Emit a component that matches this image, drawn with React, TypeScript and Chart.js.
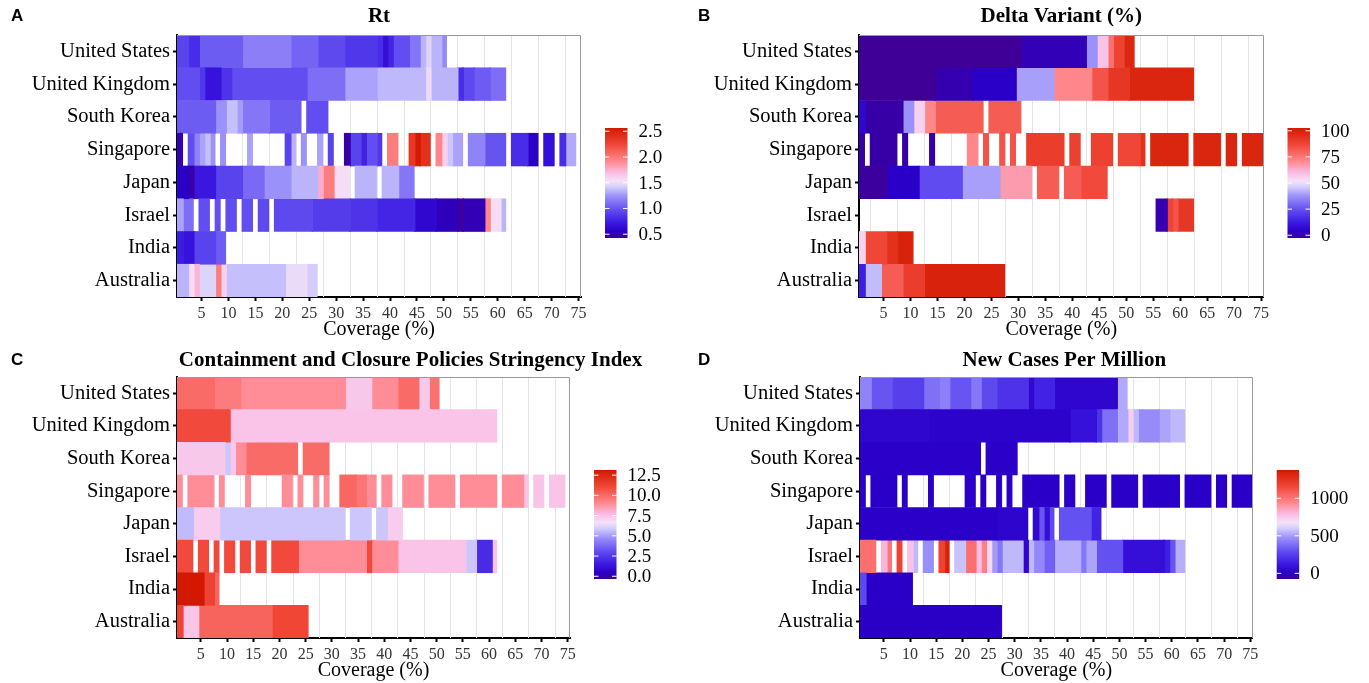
import React, { useEffect, useRef } from "react";
import { Chart, registerables } from "chart.js";
Chart.register(...registerables);

const SERIF = '"Liberation Serif", "Times New Roman", serif';
const SANS = '"Liberation Sans", Arial, sans-serif';

const countries = ["United States", "United Kingdom", "South Korea", "Singapore", "Japan", "Israel", "India", "Australia"];
const xTickValues = [5, 10, 15, 20, 25, 30, 35, 40, 45, 50, 55, 60, 65, 70, 75];
const xGridValues = [2.5, 7.5, 12.5, 17.5, 22.5, 27.5, 32.5, 37.5, 42.5, 47.5, 52.5, 57.5, 62.5, 67.5, 72.5];

// Each run: [first coverage step, last coverage step, value]
// ---- Rt ----
const rtUS = [[1,2,0.95],[3,4,0.85],[5,12,1.05],[13,21,1.18],[22,26,1.08],[27,31,0.98],[32,37,0.9],[38,38,0.85],[39,39,0.7],[40,40,0.82],[41,43,1.0],[44,45,1.15],[46,46,1.35],[47,47,1.45],[48,49,1.35],[50,50,1.22]];
const rtUK = [[1,4,1.0],[5,5,0.9],[6,8,0.72],[9,10,0.88],[11,24,1.0],[25,31,1.12],[32,37,1.3],[38,46,1.36],[47,47,1.5],[48,52,1.35],[53,53,0.85],[54,55,0.98],[56,58,1.05],[59,61,1.12]];
const rtKR = [[1,7,1.05],[8,9,1.25],[10,11,1.38],[12,12,1.28],[13,17,1.15],[18,23,1.05],[25,28,1.0]];
const rtSG = [[1,1,0.55],[3,3,1.0],[4,4,1.2],[5,5,1.3],[6,6,1.38],[7,7,1.25],[9,9,1.25],[14,14,1.3],[21,21,0.95],[22,22,1.35],[24,24,1.25],[27,27,1.3],[29,29,0.95],[32,32,0.52],[33,34,0.95],[35,35,0.8],[36,37,1.0],[38,38,0.9],[40,41,1.95],[44,44,2.3],[45,45,2.5],[46,47,2.35],[49,49,1.9],[50,50,1.6],[51,51,1.4],[52,53,1.3],[55,57,1.2],[58,61,1.02],[63,65,0.85],[66,67,0.6],[69,70,0.7],[72,72,0.85],[73,74,1.32]];
const rtJP = [[1,2,0.6],[3,3,0.52],[4,7,0.75],[8,12,0.95],[13,16,1.1],[17,21,1.25],[22,26,1.35],[27,27,1.75],[28,29,1.95],[30,32,1.55],[34,37,1.35],[39,41,1.35],[42,44,1.15]];
const rtIL = [[1,1,1.3],[2,3,1.12],[5,6,1.0],[8,8,1.0],[10,11,1.0],[13,14,1.0],[16,17,0.98],[19,25,0.98],[26,32,0.92],[33,37,0.88],[38,44,0.82],[45,48,0.65],[49,52,0.57],[53,53,0.5],[54,57,0.56],[58,58,1.9],[59,60,1.55],[61,61,1.35]];
const rtIN = [[1,1,0.78],[2,3,0.72],[4,7,0.95],[8,9,1.05]];
const rtAU = [[1,2,1.35],[3,3,1.55],[4,4,1.72],[5,7,1.45],[8,8,1.95],[9,9,1.6],[10,20,1.38],[21,24,1.5],[25,26,1.42]];

// ---- Delta variant (%) ----
const dvUS = [[1,30,0],[31,42,4],[43,44,38],[45,46,58],[47,47,75],[48,49,86],[50,51,95]];
const dvUK = [[1,14,0],[15,21,3],[22,29,6],[30,36,40],[37,43,70],[44,46,82],[47,50,90],[51,62,96]];
const dvKR = [[1,1,8],[2,8,2],[9,10,38],[11,12,55],[13,14,70],[15,23,80],[25,30,80]];
const dvSG = [[1,1,2],[3,7,2],[9,9,2],[14,14,2],[21,22,70],[24,24,82],[27,27,82],[29,29,82],[32,38,88],[40,41,87],[44,47,87],[49,52,85],[53,53,92],[55,61,96],[63,67,96],[69,70,96],[72,75,96]];
const dvJP = [[1,5,1],[6,11,6],[12,19,25],[20,26,40],[27,32,66],[34,37,80],[39,41,80],[42,46,84]];
const dvIL = [[56,57,3],[58,58,86],[59,59,82],[60,62,90]];
const dvIN = [[1,1,55],[2,5,85],[6,7,92],[8,10,97]];
const dvAU = [[1,1,15],[2,4,44],[5,8,80],[9,12,88],[13,27,97]];

// ---- Stringency index ----
const siUS = [[1,7,9.8],[8,12,9.3],[13,32,8.8],[33,37,7.3],[38,42,8.8],[43,46,9.8],[47,48,7.3],[49,50,9.6]];
const siUK = [[1,10,10.8],[11,61,7.4]];
const siKR = [[1,9,7.3],[10,10,5.8],[11,11,7.3],[12,13,8.8],[14,23,9.8],[25,29,9.8]];
const siSG = [[1,1,8.8],[3,7,8.8],[9,9,8.8],[14,14,8.8],[21,22,8.8],[24,24,8.8],[27,27,8.8],[29,29,8.8],[32,34,9.9],[35,36,9.5],[37,38,8.8],[40,41,8.8],[44,47,8.8],[49,53,8.8],[55,61,8.8],[63,66,8.8],[67,67,7.4],[69,70,7.4],[72,74,7.4]];
const siJP = [[1,3,5.6],[4,8,7.2],[9,32,5.8],[34,37,5.8],[39,40,5.8],[41,43,7.2]];
const siIL = [[1,3,10.8],[5,6,10.8],[8,8,10.8],[10,11,10.8],[13,14,10.8],[16,17,10.8],[19,23,10.8],[24,36,8.8],[37,37,10.8],[38,42,8.8],[43,55,7.4],[56,57,5.8],[58,60,2.3],[61,61,7.4]];
const siIN = [[1,5,12.8],[6,7,11],[8,8,10]];
const siAU = [[1,1,11],[2,4,7.4],[5,18,10],[19,25,10.9]];

// ---- New cases per million ----
const ncUS = [[1,2,450],[3,6,330],[7,12,270],[13,15,400],[16,17,440],[18,21,330],[22,23,420],[24,26,300],[27,32,230],[33,33,80],[34,37,180],[38,49,70],[50,51,530]];
const ncUK = [[1,13,70],[14,40,55],[41,45,120],[46,46,230],[47,49,400],[50,51,530],[52,52,730],[53,53,560],[54,57,470],[58,59,520],[60,62,560]];
const ncKR = [[1,23,50],[25,30,50]];
const ncSG = [[1,1,45],[3,7,45],[9,9,45],[14,14,45],[21,22,45],[24,24,45],[27,27,45],[29,29,45],[32,38,45],[40,41,45],[44,47,45],[49,53,45],[55,61,45],[63,67,45],[69,70,45],[72,75,45]];
const ncJP = [[1,26,50],[27,32,65],[34,34,80],[35,35,330],[36,36,110],[37,37,300],[39,44,320],[45,46,180]];
const ncIL = [[1,3,1000],[5,5,800],[6,6,980],[8,8,1150],[10,10,760],[11,11,560],[13,14,480],[16,16,1150],[17,17,1300],[19,20,580],[21,22,1000],[23,23,780],[24,24,950],[25,25,700],[26,26,500],[27,27,420],[28,31,560],[32,32,70],[33,33,560],[34,35,460],[36,37,360],[38,42,540],[43,43,420],[44,45,520],[46,50,320],[51,58,110],[59,59,170],[60,60,330],[61,62,540]];
const ncIN = [[1,1,300],[2,10,45]];
const ncAU = [[1,27,40]];

// legend (colour bar) ranges and ticks
const rtRange = [0.48, 2.51];
const dvRange = [0, 100];
const siRange = [0, 12.8];
const ncRange = [-39, 1340];
const rtLegendTicks = [0.5, 1.0, 1.5, 2.0, 2.5];
const rtLegendLabels = ["0.5", "1.0", "1.5", "2.0", "2.5"];
const dvLegendTicks = [0, 25, 50, 75, 100];
const dvLegendLabels = ["0", "25", "50", "75", "100"];
const siLegendTicks = [0, 2.5, 5, 7.5, 10, 12.5];
const siLegendLabels = ["0.0", "2.5", "5.0", "7.5", "10.0", "12.5"];
const ncLegendTicks = [0, 500, 1000];
const ncLegendLabels = ["0", "500", "1000"];

// colour palette (blue - white - red)
const PALETTE: [number, number[]][] = [
  [0.0, [62, 0, 150]],
  [0.06, [42, 0, 200]],
  [0.14, [60, 25, 225]],
  [0.25, [95, 75, 240]],
  [0.38, [155, 145, 250]],
  [0.47, [215, 210, 252]],
  [0.52, [245, 225, 248]],
  [0.6, [250, 185, 225]],
  [0.7, [255, 135, 140]],
  [0.85, [240, 70, 55]],
  [1.0, [210, 25, 0]],
];
function paletteColor(t: number): string {
  const tt = Math.max(0, Math.min(1, t));
  for (let i = 1; i < PALETTE.length; i++) {
    const [t1, c1] = PALETTE[i];
    const [t0, c0] = PALETTE[i - 1];
    if (tt <= t1) {
      const f = (tt - t0) / (t1 - t0);
      const c = c0.map((v, k) => Math.round(v + (c1[k] - v) * f));
      return `rgb(${c[0]},${c[1]},${c[2]})`;
    }
  }
  const c = PALETTE[PALETTE.length - 1][1];
  return `rgb(${c[0]},${c[1]},${c[2]})`;
}

type Panel = {
  key: string; letter: string; title: string; rows: number[][][]; range: number[];
  cbTicks: number[]; cbLabels: string[];
  left: number; top: number; w: number; h: number;
  yWidth: number; padRight: number; xHeight: number;
  titleShift: number; titleBaseline: number; letterX: number; letterBaseline: number;
  cbTop: number; cbBottom: number;
};

const panels: Panel[] = [
  { key: "A", letter: "A", title: "Rt", rows: [rtUS, rtUK, rtKR, rtSG, rtJP, rtIL, rtIN, rtAU], range: rtRange,
    cbTicks: rtLegendTicks, cbLabels: rtLegendLabels, left: 0, top: 0, w: 684, h: 342,
    yWidth: 177, padRight: 103, xHeight: 45, titleShift: 0, titleBaseline: 22, letterX: 11, letterBaseline: 21, cbTop: 128, cbBottom: 238 },
  { key: "B", letter: "B", title: "Delta Variant (%)", rows: [dvUS, dvUK, dvKR, dvSG, dvJP, dvIL, dvIN, dvAU], range: dvRange,
    cbTicks: dvLegendTicks, cbLabels: dvLegendLabels, left: 684, top: 0, w: 685, h: 342,
    yWidth: 175, padRight: 105.5, xHeight: 45, titleShift: 0, titleBaseline: 22, letterX: 14, letterBaseline: 21, cbTop: 128, cbBottom: 238 },
  { key: "C", letter: "C", title: "Containment and Closure Policies Stringency Index", rows: [siUS, siUK, siKR, siSG, siJP, siIL, siIN, siAU], range: siRange,
    cbTicks: siLegendTicks, cbLabels: siLegendLabels, left: 0, top: 342, w: 684, h: 341,
    yWidth: 177, padRight: 114, xHeight: 45, titleShift: 37, titleBaseline: 24, letterX: 11, letterBaseline: 23, cbTop: 128, cbBottom: 237 },
  { key: "D", letter: "D", title: "New Cases Per Million", rows: [ncUS, ncUK, ncKR, ncSG, ncJP, ncIL, ncIN, ncAU], range: ncRange,
    cbTicks: ncLegendTicks, cbLabels: ncLegendLabels, left: 684, top: 342, w: 685, h: 341,
    yWidth: 176, padRight: 116.3, xHeight: 45, titleShift: 8, titleBaseline: 24, letterX: 14, letterBaseline: 23, cbTop: 128, cbBottom: 237 },
];

function buildDatasets(rows: number[][][], range: number[]) {
  const maxSeg = Math.max(...rows.map((r) => r.length));
  const ds: any[] = [];
  for (let k = 0; k < maxSeg; k++) {
    ds.push({
      data: rows.map((r) => {
        const s = r[k];
        if (!s) return null;
        const next = r[k + 1];
        const overlap = next && next[0] === s[1] + 1 ? 0.15 : 0;
        return [s[0] - 0.5, s[1] + 0.5 + overlap];
      }),
      backgroundColor: rows.map((r) => (r[k] ? paletteColor((r[k][2] - range[0]) / (range[1] - range[0])) : "rgba(0,0,0,0)")),
      borderWidth: 0,
      grouped: false,
      barPercentage: 1,
      categoryPercentage: 1,
    });
  }
  return ds;
}

const decoPlugin = {
  id: "panelDeco",
  beforeDatasetsDraw(chart: any) {
    const { ctx, chartArea: a, scales } = chart;
    const x = scales.x;
    ctx.save();
    ctx.strokeStyle = "#e4e4e4";
    ctx.lineWidth = 1;
    for (const g of xGridValues) {
      const px = Math.round(x.getPixelForValue(g)) + 0.5;
      ctx.beginPath();
      ctx.moveTo(px, a.top);
      ctx.lineTo(px, a.bottom);
      ctx.stroke();
    }
    ctx.restore();
  },
  afterDatasetsDraw(chart: any) {
    const { ctx, chartArea: a } = chart;
    ctx.save();
    ctx.strokeStyle = "#9a9a9a";
    ctx.lineWidth = 1;
    ctx.beginPath();
    ctx.moveTo(a.left, Math.round(a.top) + 0.5);
    ctx.lineTo(Math.round(a.right) - 0.5, Math.round(a.top) + 0.5);
    ctx.lineTo(Math.round(a.right) - 0.5, a.bottom);
    ctx.stroke();
    ctx.restore();
  },
  afterDraw(chart: any) {
    const o: Panel = chart.options.plugins.panelDeco;
    const { ctx, chartArea: a } = chart;
    ctx.save();
    ctx.fillStyle = "#000";
    ctx.font = `bold 21px ${SERIF}`;
    ctx.textAlign = "center";
    ctx.textBaseline = "alphabetic";
    ctx.fillText(o.title, (a.left + a.right) / 2 + o.titleShift, o.titleBaseline);
    ctx.font = `bold 17px ${SANS}`;
    ctx.textAlign = "left";
    ctx.fillText(o.letter, o.letterX, o.letterBaseline);

    const L = a.right + 24;
    const W = 22.5;
    const T = o.cbTop;
    const B = o.cbBottom;
    const grad = ctx.createLinearGradient(0, B, 0, T);
    for (let i = 0; i <= 50; i++) grad.addColorStop(i / 50, paletteColor(i / 50));
    ctx.fillStyle = grad;
    ctx.fillRect(L, T, W, B - T);
    const [mn, mx] = o.range;
    const inset = 2.75;
    ctx.font = `19px ${SERIF}`;
    ctx.textBaseline = "middle";
    ctx.textAlign = "left";
    o.cbTicks.forEach((v, i) => {
      const y = B - inset - ((v - mn) / (mx - mn)) * (B - T - 2 * inset);
      ctx.strokeStyle = "#fff";
      ctx.lineWidth = 1;
      ctx.beginPath();
      ctx.moveTo(L, y);
      ctx.lineTo(L + W / 5, y);
      ctx.moveTo(L + W - W / 5, y);
      ctx.lineTo(L + W, y);
      ctx.stroke();
      ctx.fillStyle = "#000";
      ctx.fillText(o.cbLabels[i], L + W + 11, y + 1);
    });
    ctx.restore();
  },
};

function buildConfig(p: Panel): any {
  return {
    type: "bar",
    data: { labels: countries, datasets: buildDatasets(p.rows, p.range) },
    plugins: [decoPlugin],
    options: {
      animation: false,
      responsive: false,
      maintainAspectRatio: false,
      indexAxis: "y",
      events: [],
      layout: { padding: { left: 0, top: 35, right: p.padRight, bottom: 0 }, autoPadding: false },
      plugins: { legend: { display: false }, tooltip: { enabled: false }, title: { display: false }, panelDeco: p },
      scales: {
        x: {
          type: "linear", position: "bottom", min: 0.45, max: 75.45, z: 1,
          afterBuildTicks: (s: any) => { s.ticks = xTickValues.map((v) => ({ value: v })); },
          afterFit: (s: any) => { s.height = p.xHeight; },
          ticks: { autoSkip: false, maxRotation: 0, minRotation: 0, padding: 3, color: "#333", font: { family: SERIF, size: 16 }, callback: (v: any) => String(v) },
          grid: { drawOnChartArea: false, drawTicks: true, tickLength: 4, tickColor: "#000", tickWidth: 2, color: "#000" },
          border: { display: true, color: "#000", width: 2 },
          title: { display: true, text: "Coverage (%)", color: "#000", font: { family: SERIF, size: 20 }, padding: { top: 0, bottom: 0 } },
        },
        y: {
          type: "category", position: "left", z: 1,
          afterFit: (s: any) => { s.width = p.yWidth; },
          ticks: { autoSkip: false, color: "#000", padding: 3, font: { family: SERIF, size: 20.5 } },
          grid: { offset: false, drawOnChartArea: false, drawTicks: true, tickLength: 4, tickColor: "#000", tickWidth: 2, color: "#000" },
          border: { display: true, color: "#000", width: 2 },
        },
      },
    },
  };
}

function PanelChart({ p }: { p: Panel }) {
  const ref = useRef<HTMLCanvasElement>(null);
  useEffect(() => {
    if (!ref.current) return;
    const chart = new Chart(ref.current, buildConfig(p));
    return () => chart.destroy();
  }, [p]);
  return (
    <canvas
      ref={ref}
      width={p.w}
      height={p.h}
      style={{ position: "absolute", left: p.left, top: p.top, width: p.w, height: p.h }}
    />
  );
}

export default function App() {
  return (
    <div style={{ position: "absolute", left: 0, top: 0, width: 1369, height: 683, background: "#fff", overflow: "hidden" }}>
      {panels.map((p) => (
        <PanelChart key={p.key} p={p} />
      ))}
    </div>
  );
}
